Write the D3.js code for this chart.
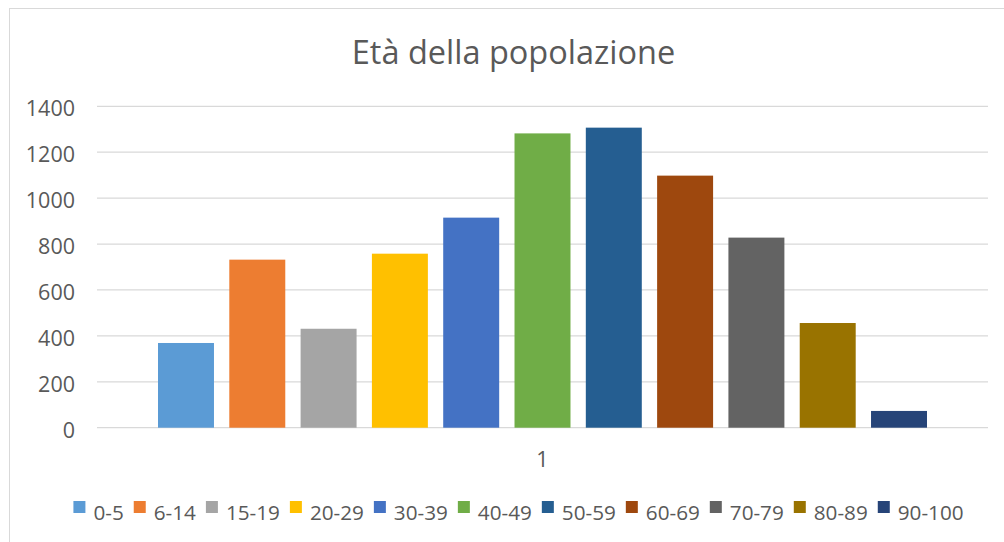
<!DOCTYPE html>
<html>
<head>
<meta charset="utf-8">
<script src="https://cdn.jsdelivr.net/npm/d3@7"></script>
<style>
  html, body { margin: 0; padding: 0; background: #fff; }
  svg { display: block; }
  text { font-family: "Open Sans", "Noto Sans", sans-serif; fill: #595959; }
</style>
</head>
<body>
<svg id="chart" width="1004" height="542"></svg>
<script>
const title = "Età della popolazione";
const categories = ["1"];
const seriesNames = ["0-5", "6-14", "15-19", "20-29", "30-39", "40-49", "50-59", "60-69", "70-79", "80-89", "90-100"];
const seriesValues = [369, 732, 431, 758, 915, 1282, 1307, 1098, 828, 456, 73];
const seriesColors = ["#5B9BD5", "#ED7D31", "#A5A5A5", "#FFC000", "#4472C4", "#70AD47", "#255E91", "#9E480E", "#636363", "#997300", "#264478"];
const yTicks = [0, 200, 400, 600, 800, 1000, 1200, 1400];

const svg = d3.select("#chart");

// chart border
svg.append("rect")
  .attr("x", 9.5).attr("y", 8.5).attr("width", 1100).attr("height", 700)
  .attr("fill", "none").attr("stroke", "#d9d9d9").attr("stroke-width", 1);

// title
svg.append("text")
  .attr("x", 513.5).attr("y", 64)
  .attr("text-anchor", "middle")
  .style("font-size", "32.5px")
  .text(title);

const plot = { left: 97, right: 988, top: 106.3, bottom: 427.7 };

const y = d3.scaleLinear().domain([0, 1400]).range([plot.bottom, plot.top]);
const x0 = d3.scaleBand().domain(categories).range([plot.left, plot.right]).paddingOuter(0.068).paddingInner(0);
const x1 = d3.scaleBand().domain(seriesNames).range([0, x0.bandwidth()]).paddingInner(0.215).paddingOuter(0.1075);

const axisFont = 21.5;

// gridlines
svg.append("g")
  .selectAll("line").data(yTicks).join("line")
  .attr("x1", plot.left).attr("x2", plot.right)
  .attr("y1", d => y(d)).attr("y2", d => y(d))
  .attr("stroke", "#d9d9d9").attr("stroke-width", 1.3);

// y axis labels
const yAxis = d3.axisLeft(y).tickValues(yTicks).tickSize(0).tickPadding(0).tickFormat(d3.format("d"));
const gy = svg.append("g").attr("transform", `translate(75,0)`).call(yAxis);
gy.select(".domain").remove();
gy.selectAll("text")
  .attr("dy", null).attr("y", 9.5)
  .style("font-size", axisFont + "px").style("font-family", "'Open Sans', sans-serif").attr("fill", "#595959");

// bars
const groups = svg.append("g").selectAll("g").data(categories).join("g")
  .attr("transform", d => `translate(${x0(d)},0)`);
groups.selectAll("rect")
  .data(() => seriesNames.map((s, i) => ({ name: s, value: seriesValues[i], color: seriesColors[i] })))
  .join("rect")
  .attr("x", d => x1(d.name))
  .attr("width", x1.bandwidth())
  .attr("y", d => y(d.value))
  .attr("height", d => y(0) - y(d.value))
  .attr("fill", d => d.color);

// x axis category label
const xAxis = d3.axisBottom(x0).tickSize(0).tickPadding(0);
const gx = svg.append("g").attr("transform", `translate(0,${plot.bottom})`).call(xAxis);
gx.select(".domain").remove();
gx.selectAll("text")
  .attr("dy", null).attr("y", 39.5)
  .style("font-size", axisFont + "px").style("font-family", "'Open Sans', sans-serif").attr("fill", "#595959");

// legend
const legend = svg.append("g");
const fontSize = 20.7;
const tmp = legend.append("text").style("font-size", fontSize + "px");
const widths = seriesNames.map(s => { tmp.text(s); return tmp.node().getComputedTextLength(); });
tmp.remove();
const markerSize = 12, markerGap = 8, itemGap = 10;
const itemWidths = widths.map(w => markerSize + markerGap + w + itemGap);
const total = d3.sum(itemWidths) - itemGap;
let lx = 518.5 - total / 2;
seriesNames.forEach((s, i) => {
  const g = legend.append("g").attr("transform", `translate(${lx},0)`);
  g.append("rect").attr("x", 0).attr("y", 501).attr("width", markerSize).attr("height", markerSize)
    .attr("fill", seriesColors[i]);
  g.append("text").attr("x", markerSize + markerGap).attr("y", 520)
    .style("font-size", fontSize + "px").text(s);
  lx += itemWidths[i];
});
</script>
</body>
</html>
